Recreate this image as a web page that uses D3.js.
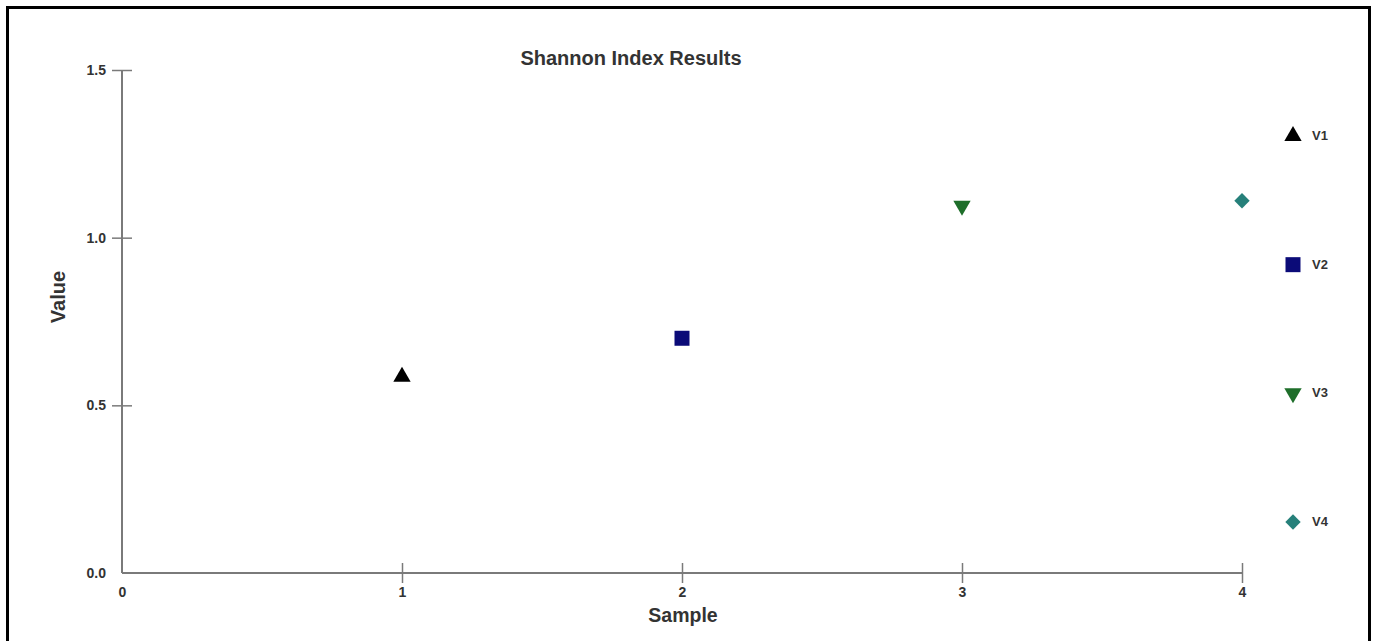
<!DOCTYPE html>
<html>
<head>
<meta charset="utf-8">
<script src="https://cdn.jsdelivr.net/npm/d3@7"></script>
<style>
html,body{margin:0;padding:0;background:#fff;}
svg{display:block;font-family:"Liberation Sans",Arial,sans-serif;}
</style>
</head>
<body>
<svg id="chart" width="1374" height="641"></svg>
<script>
const seriesNames = ["V1", "V2", "V3", "V4"];
const sampleIds = [1, 2, 3, 4];
const shannonValues = [0.585, 0.70, 1.095, 1.11];
const seriesColors = ["#000000", "#0b0b78", "#1e6e2a", "#26807a"];
const xTickValues = [0, 1, 2, 3, 4];
const yTickValues = [0, 0.5, 1.0, 1.5];

const svg = d3.select("#chart");

// frame
svg.append("rect").attr("x", 7.5).attr("y", 7.5).attr("width", 1362).attr("height", 700)
  .attr("fill", "none").attr("stroke", "#000").attr("stroke-width", 3);

const x = d3.scaleLinear().domain([0, 4]).range([122, 1242]);
const y = d3.scaleLinear().domain([0, 1.5]).range([573, 70]);

const axisColor = "#7a7a7a";
const textColor = "#333333";

// y axis
const yAxis = svg.append("g").attr("transform", "translate(122,0)")
  .call(d3.axisLeft(y).tickValues(yTickValues).tickFormat(d3.format(".1f")).tickSize(10).tickPadding(6));
yAxis.select(".domain").attr("stroke", axisColor).attr("stroke-width", 2).attr("d", `M0,${y(1.5)}V${y(0)}`);
yAxis.selectAll(".tick line").attr("stroke", axisColor).attr("stroke-width", 1.5)
  .attr("x1", 10).attr("x2", -10)
  .style("display", d => d === 0 ? "none" : null);
yAxis.selectAll(".tick text").attr("x", -16).attr("fill", textColor)
  .style("font-size", "14px").style("font-weight", "bold");

// x axis
const xAxis = svg.append("g").attr("transform", "translate(0,573)")
  .call(d3.axisBottom(x).tickValues(xTickValues).tickFormat(d3.format("d")).tickSize(10).tickPadding(6));
xAxis.select(".domain").attr("stroke", axisColor).attr("stroke-width", 2).attr("d", `M${x(0)},0H${x(4)}`);
xAxis.selectAll(".tick line").attr("stroke", axisColor).attr("stroke-width", 1.5)
  .attr("y1", -10).attr("y2", 10)
  .style("display", d => d === 0 ? "none" : null);
xAxis.selectAll(".tick text").attr("y", 14).attr("fill", textColor)
  .style("font-size", "14px").style("font-weight", "bold");

// titles
svg.append("text").attr("x", 631).attr("y", 65).attr("text-anchor", "middle")
  .attr("fill", textColor).style("font-size", "20px").style("font-weight", "bold")
  .text("Shannon Index Results");
svg.append("text").attr("x", 683).attr("y", 622).attr("text-anchor", "middle")
  .attr("fill", textColor).style("font-size", "19.5px").style("font-weight", "bold")
  .text("Sample");
svg.append("text").attr("transform", "translate(65,297) rotate(-90)").attr("text-anchor", "middle")
  .attr("fill", textColor).style("font-size", "20px").style("font-weight", "bold")
  .text("Value");

// symbols
function symbolPath(i) {
  if (i === 0) return d3.symbol().type(d3.symbolTriangle).size(130)();
  if (i === 1) return d3.symbol().type(d3.symbolSquare).size(225)();
  if (i === 2) return d3.symbol().type(d3.symbolTriangle).size(130)();
  return d3.symbol().type(d3.symbolSquare).size(118)();
}
function symbolRotate(i) {
  if (i === 2) return " rotate(180)";
  if (i === 3) return " rotate(45)";
  return "";
}

svg.append("g").selectAll("path").data(seriesNames).join("path")
  .attr("d", (d, i) => symbolPath(i))
  .attr("transform", (d, i) => `translate(${x(sampleIds[i])},${y(shannonValues[i])})${symbolRotate(i)}`)
  .attr("fill", (d, i) => seriesColors[i]);

// legend
const legendY = d3.scalePoint().domain(seriesNames).range([136, 522]);
const leg = svg.append("g").selectAll("g").data(seriesNames).join("g")
  .attr("transform", d => `translate(1293,${legendY(d)})`);
leg.append("path")
  .attr("d", (d, i) => symbolPath(i))
  .attr("transform", (d, i) => `translate(0,0)${symbolRotate(i)}`)
  .attr("fill", (d, i) => seriesColors[i]);
leg.append("text").attr("x", 19).attr("y", 4).attr("fill", textColor)
  .style("font-size", "13px").style("font-weight", "bold").text(d => d);
</script>
</body>
</html>
